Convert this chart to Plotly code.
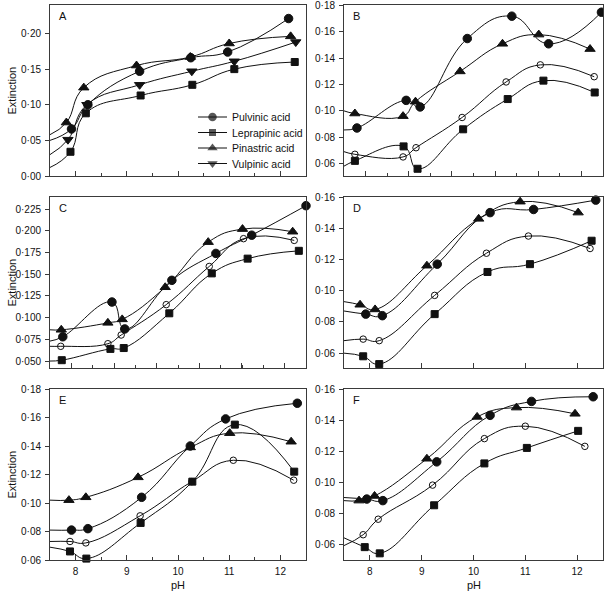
import plotly.graph_objects as go

PH_MIN, PH_MAX = 7.5, 12.5
NAMES = {"pulv": "Pulvinic acid", "lepr": "Leprapinic acid",
         "pina": "Pinastric acid", "vulp": "Vulpinic acid"}
ORDER = ["pulv", "lepr", "pina", "vulp"]

# ---------------- Panel A ----------------
A_PH = {"pulv": [7.92, 8.24, 9.25, 10.25, 10.97, 12.16],
        "lepr": [7.90, 8.20, 9.27, 10.28, 11.10, 12.28],
        "pina": [7.82, 8.16, 9.19, 10.24, 11.00, 12.20],
        "vulp": [7.85, 8.22, 9.25, 10.27, 11.10, 12.30]}
A_EXT = {"pulv": [0.066, 0.100, 0.147, 0.166, 0.174, 0.221],
         "lepr": [0.034, 0.088, 0.113, 0.128, 0.150, 0.160],
         "pina": [0.075, 0.124, 0.155, 0.167, 0.186, 0.196],
         "vulp": [0.051, 0.100, 0.128, 0.147, 0.161, 0.188]}
A_START = {"pulv": 0.050, "lepr": 0.012, "pina": 0.058, "vulp": 0.030}

# ---------------- Panel B ----------------
B_PH = {"pulv": [7.75, 8.70, 8.97, 9.88, 10.74, 11.45, 12.47],
        "lepr": [7.71, 8.65, 8.92, 9.80, 10.66, 11.35, 12.34],
        "pina": [7.71, 8.64, 8.88, 9.74, 10.56, 11.26, 12.25],
        "vulp": [7.71, 8.64, 8.89, 9.78, 10.63, 11.29, 12.33]}
B_EXT = {"pulv": [0.087, 0.108, 0.103, 0.155, 0.172, 0.151, 0.175],
         "lepr": [0.062, 0.073, 0.056, 0.086, 0.109, 0.123, 0.114],
         "pina": [0.098, 0.096, 0.107, 0.130, 0.151, 0.158, 0.147],
         "vulp": [0.067, 0.065, 0.072, 0.095, 0.122, 0.135, 0.126]}
B_START = {"pulv": 0.0855, "lepr": 0.058, "pina": 0.100, "vulp": 0.069}

# ---------------- Panel C ----------------
C_PH = {"pulv": [7.75, 8.71, 8.96, 9.88, 10.74, 11.44, 12.50],
        "lepr": [7.73, 8.68, 8.94, 9.83, 10.66, 11.36, 12.36],
        "pina": [7.72, 8.63, 8.91, 9.75, 10.59, 11.26, 12.24],
        "vulp": [7.71, 8.63, 8.89, 9.77, 10.61, 11.28, 12.27]}
C_EXT = {"pulv": [0.078, 0.118, 0.087, 0.143, 0.174, 0.195, 0.229],
         "lepr": [0.051, 0.064, 0.065, 0.105, 0.151, 0.168, 0.177],
         "pina": [0.086, 0.094, 0.098, 0.135, 0.187, 0.202, 0.199],
         "vulp": [0.067, 0.070, 0.080, 0.115, 0.159, 0.191, 0.189]}
C_START = {"pulv": 0.073, "lepr": 0.050, "pina": 0.086, "vulp": 0.067}

# ---------------- Panel D ----------------
D_PH = {"pulv": [7.92, 8.24, 9.30, 10.32, 11.16, 12.36],
        "lepr": [7.87, 8.18, 9.25, 10.27, 11.09, 12.28],
        "pina": [7.81, 8.10, 9.10, 10.10, 10.90, 12.02],
        "vulp": [7.87, 8.18, 9.25, 10.25, 11.06, 12.25]}
D_EXT = {"pulv": [0.085, 0.084, 0.117, 0.150, 0.152, 0.158],
         "lepr": [0.058, 0.053, 0.085, 0.112, 0.117, 0.132],
         "pina": [0.091, 0.088, 0.116, 0.146, 0.157, 0.150],
         "vulp": [0.069, 0.068, 0.097, 0.124, 0.135, 0.127]}
D_START = {"pulv": 0.087, "lepr": 0.060, "pina": 0.093, "vulp": 0.068}

# ---------------- Panel E ----------------
E_PH = {"pulv": [7.92, 8.24, 9.29, 10.24, 10.93, 12.33],
        "lepr": [7.89, 8.21, 9.27, 10.28, 11.11, 12.27],
        "pina": [7.87, 8.20, 9.22, 10.24, 11.01, 12.21],
        "vulp": [7.89, 8.20, 9.26, 10.27, 11.08, 12.26]}
E_EXT = {"pulv": [0.081, 0.082, 0.104, 0.140, 0.159, 0.170],
         "lepr": [0.066, 0.061, 0.086, 0.115, 0.155, 0.122],
         "pina": [0.102, 0.104, 0.118, 0.139, 0.149, 0.143],
         "vulp": [0.073, 0.072, 0.091, 0.115, 0.130, 0.116]}
E_START = {"pulv": 0.081, "lepr": 0.069, "pina": 0.102, "vulp": 0.073}

# ---------------- Panel F ----------------
F_PH = {"pulv": [7.94, 8.25, 9.29, 10.32, 11.12, 12.31],
        "lepr": [7.90, 8.19, 9.24, 10.21, 11.03, 12.02],
        "pina": [7.79, 8.09, 9.10, 10.07, 10.83, 11.96],
        "vulp": [7.87, 8.16, 9.21, 10.21, 11.00, 12.15]}
F_EXT = {"pulv": [0.089, 0.088, 0.113, 0.143, 0.152, 0.155],
         "lepr": [0.058, 0.054, 0.085, 0.112, 0.122, 0.133],
         "pina": [0.088, 0.091, 0.115, 0.142, 0.148, 0.144],
         "vulp": [0.066, 0.076, 0.098, 0.128, 0.136, 0.123]}
F_START = {"pulv": 0.090, "lepr": 0.064, "pina": 0.088, "vulp": 0.059}

# y-axis ranges and ticks per panel
Y_RANGE = {"A": [0.0, 0.240], "B": [0.0505, 0.1805], "C": [0.042, 0.239],
           "D": [0.0505, 0.160], "E": [0.060, 0.180], "F": [0.0497, 0.160]}
Y_TICKS = {"A": [0.00, 0.05, 0.10, 0.15, 0.20],
           "B": [0.06, 0.08, 0.10, 0.12, 0.14, 0.16, 0.18],
           "C": [0.050, 0.075, 0.100, 0.125, 0.150, 0.175, 0.200, 0.225],
           "D": [0.06, 0.08, 0.10, 0.12, 0.14, 0.16],
           "E": [0.06, 0.08, 0.10, 0.12, 0.14, 0.16, 0.18],
           "F": [0.06, 0.08, 0.10, 0.12, 0.14, 0.16]}
Y_DEC = {"A": 2, "B": 2, "C": 3, "D": 2, "E": 2, "F": 2}
X_TICKS = [8, 9, 10, 11, 12]

PANELS = [("A", A_PH, A_EXT, A_START), ("B", B_PH, B_EXT, B_START),
          ("C", C_PH, C_EXT, C_START), ("D", D_PH, D_EXT, D_START),
          ("E", E_PH, E_EXT, E_START), ("F", F_PH, F_EXT, F_START)]

W, H = 604, 594
# panel boxes in pixels: (left, right, top, bottom)
BOX = {"A": (50, 306, 5, 176), "B": (344, 603, 5, 176),
       "C": (50, 306, 197, 368), "D": (344, 603, 197, 368),
       "E": (50, 306, 389, 560), "F": (344, 603, 389, 560)}

# legend key box (pixels): line from x0 to x1, rows starting at y0 with step dy
LEG_X0, LEG_X1, LEG_TEXT_X = 198, 227, 230
LEG_Y0, LEG_DY = 117, 15.5

INK = "#111111"
FRAME = "#3a3a3a"
FONT = "Liberation Sans, Arial, sans-serif"
TICK_FONT = dict(size=10, color=INK, family=FONT)
TEXT_FONT = dict(size=11, color=INK, family=FONT)

SYM_A = {"pulv": ("circle", 8.5), "lepr": ("square", 7),
         "pina": ("triangle-up", 9), "vulp": ("triangle-down", 9)}
SYM_B = {"pulv": ("circle", 8.5), "lepr": ("square", 7),
         "pina": ("triangle-up", 9), "vulp": ("circle-open", 6.5)}

fig = go.Figure()
layout = {}
annotations = []

for i, (name, ph, ext, start) in enumerate(PANELS):
    k = "" if i == 0 else str(i + 1)
    xa, ya = "x" + k, "y" + k
    syms = SYM_A if name == "A" else SYM_B
    for key in ORDER:
        fig.add_trace(go.Scatter(
            x=[PH_MIN] + ph[key], y=[start[key]] + ext[key],
            mode="lines", line=dict(color=INK, width=1, shape="spline", smoothing=1.3),
            xaxis=xa, yaxis=ya, showlegend=False, hoverinfo="skip"))
    for key in ORDER:
        sym, sz = syms[key]
        fig.add_trace(go.Scatter(
            x=ph[key], y=ext[key], mode="markers", name=NAMES[key],
            marker=dict(symbol=sym, size=sz, color=INK,
                        line=dict(color=INK, width=1)),
            xaxis=xa, yaxis=ya, showlegend=False, cliponaxis=False))

    l, r, t, b = BOX[name]
    bottom_row = name in ("E", "F")
    if name in ("B", "C"):
        xt = dict(tickmode="linear", tick0=7.9167, dtick=0.8333,
                  minor=dict(tickmode="linear", tick0=7.9167, dtick=0.41667,
                             ticklen=3, ticks="inside", tickcolor=FRAME))
    elif name in ("A", "E"):
        xt = dict(tickmode="array", tickvals=X_TICKS,
                  minor=dict(tickmode="linear", tick0=7.5, dtick=0.5,
                             ticklen=3, ticks="inside", tickcolor=FRAME))
    else:
        xt = dict(tickmode="array", tickvals=X_TICKS)
    layout["xaxis" + k] = dict(
        domain=[l / W, r / W], range=[PH_MIN, PH_MAX], anchor=ya,
        showline=True, mirror=True, linecolor=FRAME, linewidth=1,
        ticks="inside", ticklen=5, tickcolor=FRAME, showgrid=False, zeroline=False,
        showticklabels=bottom_row, tickfont=TICK_FONT, ticklabelstandoff=2,
        automargin=False, **xt)
    dec = Y_DEC[name]
    layout["yaxis" + k] = dict(
        domain=[1 - b / H, 1 - t / H], range=Y_RANGE[name], anchor=xa,
        showline=True, mirror=True, linecolor=FRAME, linewidth=1,
        ticks="outside", ticklen=4, tickcolor=FRAME, showgrid=False, zeroline=False,
        tickmode="array", tickvals=Y_TICKS[name],
        ticktext=[f"{v:.{dec}f}".replace(".", "\u00b7") for v in Y_TICKS[name]],
        tickfont=TICK_FONT, ticklabelstandoff=2,
        automargin=False)

    annotations.append(dict(text=name, x=(l + 7) / W, y=1 - (t + 11) / H,
                            xref="paper", yref="paper", xanchor="left", yanchor="middle",
                            showarrow=False, font=TEXT_FONT))
    if name in ("A", "C", "E"):
        annotations.append(dict(text="Extinction", x=11 / W, y=1 - (t + b) / 2 / H,
                                xref="paper", yref="paper", textangle=-90,
                                xanchor="center", yanchor="middle", showarrow=False,
                                font=TEXT_FONT))
    if bottom_row:
        annotations.append(dict(text="pH", x=(l + r) / 2 / W, y=1 - 585 / H,
                                xref="paper", yref="paper", xanchor="center",
                                yanchor="middle", showarrow=False, font=TEXT_FONT))

# legend key drawn on a hidden pixel-unit axis inside panel A
leg_top = LEG_Y0 - 8
leg_bot = LEG_Y0 + 3 * LEG_DY + 8
layout["xaxis7"] = dict(domain=[LEG_X0 / W, LEG_X1 / W], range=[LEG_X0, LEG_X1],
                        visible=False, anchor="y7", fixedrange=True)
layout["yaxis7"] = dict(domain=[1 - leg_bot / H, 1 - leg_top / H],
                        range=[-leg_bot, -leg_top], visible=False, anchor="x7",
                        fixedrange=True)
for j, key in enumerate(ORDER):
    sym, sz = SYM_A[key]
    row = LEG_Y0 + j * LEG_DY
    fig.add_trace(go.Scatter(
        x=[LEG_X0, (LEG_X0 + LEG_X1) / 2, LEG_X1], y=[-row, -row, -row],
        mode="lines+markers", line=dict(color=INK, width=1),
        marker=dict(symbol=sym, size=[0, sz, 0], color=INK, line=dict(width=0)),
        xaxis="x7", yaxis="y7", showlegend=False, hoverinfo="skip", cliponaxis=False))
    annotations.append(dict(text=NAMES[key], x=LEG_TEXT_X / W, y=1 - row / H,
                            xref="paper", yref="paper", xanchor="left", yanchor="middle",
                            showarrow=False,
                            font=dict(size=10.5, color=INK, family=FONT)))

fig.update_layout(
    width=W, height=H, margin=dict(l=0, r=0, t=0, b=0),
    paper_bgcolor="white", plot_bgcolor="white",
    font=dict(family=FONT, size=11, color=INK),
    annotations=annotations, showlegend=False,
    **layout)

fig.write_html("out.html", config={"displayModeBar": False},
               post_script="document.body.style.margin='0';document.body.style.overflow='hidden';")
